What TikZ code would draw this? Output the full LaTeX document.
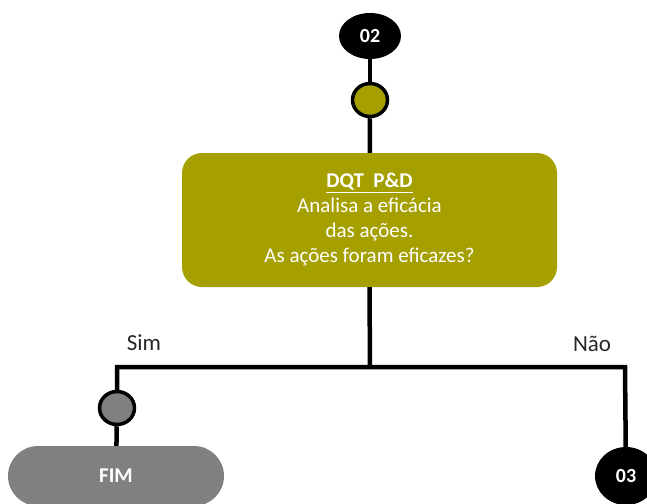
\documentclass[tikz,border=0pt]{standalone}
\usepackage{fontspec}
\setmainfont{Carlito}
\usetikzlibrary{shapes.geometric}
\definecolor{olivefill}{HTML}{A59F00}
\definecolor{grayfill}{HTML}{808080}
\definecolor{lbltext}{HTML}{262626}
\begin{document}
\begin{tikzpicture}[x=1pt,y=-1pt,
  conn/.style={draw=black,line width=4.5pt},
  blackcirc/.style={ellipse,fill=black,text=white,font=\fontsize{20}{22}\selectfont\bfseries,inner sep=0pt},
  smallcirc/.style={ellipse,draw=black,line width=3.5pt,minimum width=35pt,minimum height=33pt,inner sep=0pt},
  mainbox/.style={rectangle,rounded corners=20pt,fill=olivefill,text=white,minimum width=375pt,minimum height=134pt,align=center,font=\fontsize{21}{25}\selectfont},
  fimbox/.style={rectangle,rounded corners=30pt,fill=grayfill,text=white,minimum width=216pt,minimum height=60pt,font=\fontsize{21}{24}\selectfont\bfseries},
  lbl/.style={text=lbltext,font=\fontsize{23}{26}\selectfont,inner sep=0pt}]
\useasboundingbox (0,0) rectangle (647,503);
\clip (0,0) rectangle (647,503);
\node[blackcirc,minimum width=62pt,minimum height=46pt] (n02) at (370,36) {02};
\node[smallcirc,fill=olivefill] (c1) at (370,100) {};
\node[mainbox] (box) at (369.5,220) {{\bfseries\underline{DQT\ \ P\&D}}\\Analisa a eficácia\\das ações.\\As ações foram eficazes?};
\coordinate (R) at (625,367);
\coordinate (J) at (370,367);
\node[smallcirc,fill=grayfill] (c2) at (117,408) {};
\node[fimbox] (fim) at (116,476) {FIM};
\node[blackcirc,minimum width=62pt,minimum height=58pt] (n03) at (626,476) {03};
\node[lbl] (sim) at (144,343) {Sim};
\node[lbl] (nao) at (592,344) {Não};
\draw[conn] (n02) -- (c1);
\draw[conn] (c1) -- (box);
\draw[conn] (box.south) -- (J);
\draw[conn] (c2) |- (R) -- (n03);
\draw[conn] (c2) -- (fim);
\end{tikzpicture}
\end{document}
